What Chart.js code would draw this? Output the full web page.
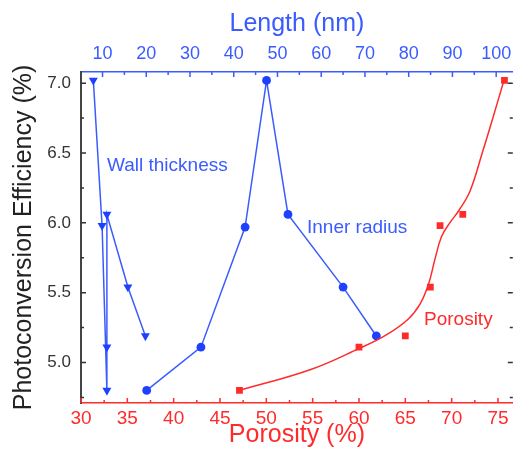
<!DOCTYPE html>
<html>
<head>
<meta charset="utf-8">
<script src="https://cdn.jsdelivr.net/npm/chart.js@4/dist/chart.umd.min.js"></script>
<style>
  html, body { margin: 0; padding: 0; background: #fff; }
  canvas { display: block; }
</style>
</head>
<body>
<canvas id="chart" width="518" height="455"></canvas>
<script>
// efficiency values (%) shared by the three sample sets
const wallLength = [7.9, 9.9, 11.0, 11.0, 11.0, 15.8, 19.8];
const wallEff    = [7.02, 5.98, 4.80, 5.11, 6.06, 5.54, 5.19];

const radiusLength = [20.1, 32.5, 42.6, 47.5, 52.4, 65.0, 72.6];
const radiusEff    = [4.80, 5.11, 5.97, 7.02, 6.06, 5.54, 5.19];

const porosity    = [47.1, 60.0, 65.0, 67.7, 68.75, 71.2, 75.7];
const porosityEff = [4.80, 5.11, 5.19, 5.54, 5.98, 6.06, 7.02];

// fitted curve through the porosity points
const fitPorosity = [47.1, 54.8, 60.0, 63.0, 65.3, 66.6, 67.5, 68.2, 68.9, 69.8, 70.8, 72.0, 73.3, 74.4, 75.6];
const fitEff      = [4.80, 4.95, 5.10, 5.20, 5.31, 5.42, 5.56, 5.74, 5.90, 6.00, 6.09, 6.23, 6.50, 6.74, 7.01];

const blue = "#3a5cff";
const blueMark = "#1e40ff";
const red = "#ff2b2b";
const font = "'Liberation Sans', Arial, sans-serif";

const pts = (xs, ys) => xs.map((x, i) => ({ x: x, y: ys[i] }));

const fixSize = (w, h) => scale => {
  if (w) scale.width = w;
  if (h) scale.height = h;
  scale.paddingLeft = scale.paddingRight = 0;
  scale.paddingTop = scale.paddingBottom = 0;
};

// inward tick marks (major + minor) on all four sides
const tickMarks = {
  id: "tickMarks",
  afterDatasetsDraw(chart) {
    const { ctx, chartArea: a, scales } = chart;
    const values = scale => {
      const major = scale.ticks.map(t => t.value);
      const step = major[1] - major[0];
      const minor = [];
      for (let v = major[0] - step / 2; v <= scale.max; v += step) {
        if (v >= scale.min) minor.push(v);
      }
      return { major, minor };
    };
    const draw = (scale, color, fn) => {
      const { major, minor } = values(scale);
      ctx.save();
      ctx.strokeStyle = color;
      ctx.lineWidth = 1.5;
      ctx.beginPath();
      major.forEach(v => fn(scale.getPixelForValue(v), 5));
      minor.forEach(v => fn(scale.getPixelForValue(v), 3));
      ctx.stroke();
      ctx.restore();
    };
    draw(scales.y, "#333", (p, l) => {
      ctx.moveTo(a.left, p); ctx.lineTo(a.left + l, p);
      ctx.moveTo(a.right, p); ctx.lineTo(a.right - l, p);
    });
    draw(scales.x, red, (p, l) => { ctx.moveTo(p, a.bottom); ctx.lineTo(p, a.bottom - l); });
    draw(scales.xTop, blue, (p, l) => { ctx.moveTo(p, a.top); ctx.lineTo(p, a.top + l); });
  }
};

// series labels written inside the plot
const seriesLabels = {
  id: "seriesLabels",
  afterDatasetsDraw(chart) {
    const ctx = chart.ctx;
    ctx.save();
    ctx.font = "19px " + font;
    ctx.textBaseline = "middle";
    ctx.fillStyle = blue;
    ctx.fillText("Wall thickness", 107, 166);
    ctx.fillText("Inner radius", 307, 228);
    ctx.fillStyle = red;
    ctx.fillText("Porosity", 424, 320);
    ctx.restore();
  }
};

new Chart(document.getElementById("chart"), {
  type: "scatter",
  data: {
    datasets: [
      {
        label: "Porosity fit",
        data: pts(fitPorosity, fitEff),
        xAxisID: "x",
        showLine: true,
        borderColor: red,
        borderWidth: 1.5,
        pointRadius: 0,
        tension: 0.4
      },
      {
        label: "Porosity",
        data: pts(porosity, porosityEff),
        xAxisID: "x",
        showLine: false,
        pointStyle: "rect",
        pointRadius: 4.8,
        backgroundColor: red,
        borderColor: red,
        borderWidth: 0
      },
      {
        label: "Inner radius",
        data: pts(radiusLength, radiusEff),
        xAxisID: "xTop",
        showLine: true,
        borderColor: blue,
        borderWidth: 1.5,
        pointStyle: "circle",
        pointRadius: 4.4,
        backgroundColor: blueMark,
        pointBorderColor: blueMark,
        pointBorderWidth: 0
      },
      {
        label: "Wall thickness",
        data: pts(wallLength, wallEff),
        xAxisID: "xTop",
        showLine: true,
        borderColor: blue,
        borderWidth: 1.5,
        pointStyle: "triangle",
        rotation: 180,
        pointRadius: 5.2,
        backgroundColor: blueMark,
        pointBorderColor: blueMark,
        pointBorderWidth: 0
      }
    ]
  },
  options: {
    responsive: false,
    animation: false,
    devicePixelRatio: 1,
    layout: { padding: { right: 1 } },
    plugins: { legend: { display: false }, tooltip: { enabled: false } },
    scales: {
      x: {
        type: "linear",
        position: "bottom",
        min: 30,
        max: 76.6,
        afterFit: fixSize(0, 52),
        grid: { display: false, drawTicks: false },
        border: { display: true, color: red, width: 1.5 },
        ticks: { stepSize: 5, includeBounds: false, padding: 4, color: red, font: { family: font, size: 19 } },
        title: { display: true, text: "Porosity (%)", color: red, padding: { top: 0, bottom: 5 }, font: { family: font, size: 25 } }
      },
      xTop: {
        type: "linear",
        position: "top",
        min: 5.08,
        max: 103.8,
        afterFit: fixSize(0, 72),
        grid: { display: false, drawTicks: false },
        border: { display: true, color: blue, width: 1.5 },
        ticks: { stepSize: 10, includeBounds: false, padding: 7, color: blue, font: { family: font, size: 18 } },
        title: { display: true, text: "Length (nm)", color: blue, padding: { top: 9, bottom: 0 }, font: { family: font, size: 25 } }
      },
      y: {
        type: "linear",
        position: "left",
        min: 4.71,
        max: 7.08,
        afterFit: fixSize(81, 0),
        grid: { display: false, drawTicks: false },
        border: { display: true, color: "#444", width: 2 },
        ticks: {
          stepSize: 0.5,
          includeBounds: false,
          padding: 10,
          color: "#333",
          font: { family: font, size: 17 },
          callback: v => v.toFixed(1)
        },
        title: { display: true, text: "Photoconversion Efficiency (%)", color: "#222", padding: { top: 9, bottom: 0 }, font: { family: font, size: 25 } }
      }
    }
  },
  plugins: [tickMarks, seriesLabels]
});
</script>
</body>
</html>
